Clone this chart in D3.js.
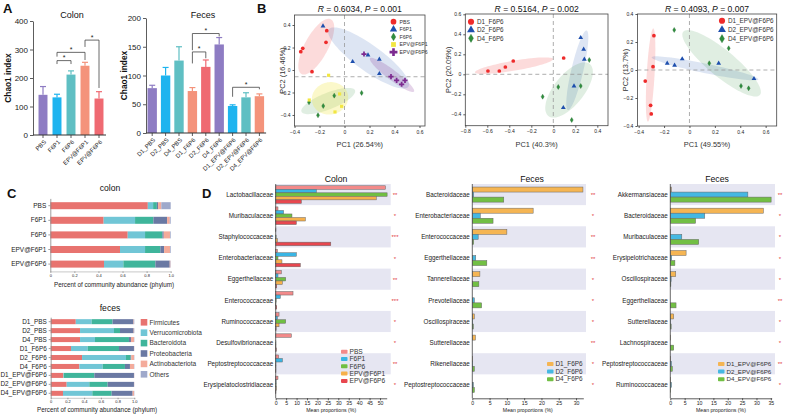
<!DOCTYPE html>
<html><head><meta charset="utf-8">
<script src="https://cdn.jsdelivr.net/npm/d3@7"></script>
<style>body{margin:0;background:#fff}svg{font-family:"Liberation Sans",Arial,sans-serif}</style>
</head><body><svg id="c" width="785" height="417"></svg>
<script>
// ---------------- DATA ----------------
const colonGroups = ["PBS","F6P1","F6P6","EPV@F6P1","EPV@F6P6"];
const colonChao = [141,132,212,243,128];
const colonChaoErr = [170,143,225,255,152];
const colonBrackets = [[1,2,261,249,249],[1,3,290,275,263],[3,4,333,309,165]];
const fecesGroups = ["D1_PBS","D2_PBS","D4_PBS","D1_F6P6","D2_F6P6","D4_F6P6","D1_EPV@F6P6","D2_EPV@F6P6","D4_EPV@F6P6"];
const fecesChao = [78,100,126,73,115,154,47,62,64];
const fecesChaoErr = [83,114,150,79,127,166,49,70,68];
const fecesBrackets = [[3,4,141,121,130],[3,5,173,144,168],[6,8,79.5,63,76]];

const pca1Names = ["PBS","F6P1","F6P6","EPV@F6P1","EPV@F6P6"];
const pca1Pts = [
 [[-0.350,0.163],[-0.334,0.193],[-0.142,0.349],[-0.148,0.246],[-0.26,-0.015]],
 [[-0.172,0.391],[0.065,0.074],[0.188,0.133],[0.279,0.095],[0.279,-0.033]],
 [[-0.284,-0.287],[-0.17,-0.32],[-0.212,-0.403],[-0.082,-0.228],[0.137,-0.204]],
 [[-0.127,-0.047],[-0.282,-0.267],[-0.039,-0.213],[-0.023,-0.323],[-0.076,-0.373]],
 [[0.156,0.142],[0.372,-0.059],[0.417,-0.092],[0.484,-0.092],[0.457,-0.127]]];
const pca1Ell = [
 [-0.226,0.207,0.118,0.243,0.082,-0.049],
 [0.193,0.107,0.318,-0.255,-0.061,-0.094],
 [-0.13,-0.276,0.214,0.095,0.025,-0.068],
 [-0.116,-0.252,0.144,0.027,0.02,-0.142],
 [0.38,-0.044,0.176,-0.148,-0.024,-0.036]];
const pca1Stats = ["0.6034","0.001","26.54%","16.46%"];

const pca2Names = ["D1_F6P6","D2_F6P6","D4_F6P6"];
const pca2Pts = [
 [[-0.594,0.033],[-0.491,0.033],[-0.436,0.073],[-0.364,0.133],[0.094,0.163]],
 [[0.249,0.366],[0.276,0.25],[0.282,0.15],[0.188,-0.117],[0.091,-0.334]],
 [[0.327,0.143],[0.045,-0.127],[0.249,-0.117],[-0.097,-0.224],[0.167,-0.457]]];
const pca2Ell = [
 [-0.357,0.086,0.355,0.067,0.0077,-0.049],
 [0.218,0.04,0.085,0.397,0.053,-0.014],
 [0.143,-0.157,0.188,0.26,0.107,-0.093]];
const pca2Stats = ["0.5164","0.002","40.3%","20.09%"];

const pca3Names = ["D1_EPV@F6P6","D2_EPV@F6P6","D4_EPV@F6P6"];
const pca3Pts = [
 [[-0.28,0.245],[-0.287,0.024],[-0.348,-0.079],[-0.306,-0.252],[-0.301,-0.314]],
 [[-0.175,0.048],[-0.117,0.034],[-0.057,0.079],[0.23,0.048],[0.508,-0.062]],
 [[-0.12,0.286],[0.309,0.155],[0.156,0.048],[0.406,-0.114],[0.466,-0.131]]];
const pca3Ell = [
 [-0.306,-0.036,0.021,0.333,0.031,0.001],
 [0.122,0.012,0.42,-0.079,-0.0075,-0.033],
 [0.253,0.048,0.302,-0.226,-0.067,-0.073]];
const pca3Stats = ["0.4093","0.007","49.55%","13.7%"];

const phyla = ["Firmicutes","Verrucomicrobiota","Bacteroidota","Proteobacteria","Actinobacteriota","Others"];
const phylaColon = [
 [0.81,0.044,0.031,0.01,0.027,0.078],
 [0.443,0.261,0.152,0.114,0.022,0.008],
 [0.643,0.144,0.144,0.011,0.052,0.006],
 [0.579,0.208,0.127,0.031,0.049,0.006],
 [0.446,0.161,0.266,0.119,0.005,0.003]];
const phylaFeces = [
 [0.30,0.19,0.25,0.25,0.005,0.005],
 [0.351,0.406,0.072,0.163,0.004,0.004],
 [0.351,0.179,0.406,0.024,0.036,0.004],
 [0.243,0.199,0.375,0.179,0.002,0.002],
 [0.375,0.525,0.056,0.008,0.032,0.004],
 [0.343,0.279,0.266,0.06,0.048,0.004],
 [0.151,0.005,0.366,0.474,0.002,0.002],
 [0.191,0.271,0.219,0.315,0.002,0.002],
 [0.147,0.351,0.231,0.251,0.016,0.004]];

const dColonFam = ["Lactobacillaceae","Muribaculaceae","Staphylococcaceae","Enterobacteriaceae","Eggerthellaceae","Enterococcaceae","Ruminococcaceae","Desulfovibrionaceae","Peptostreptococcaceae","Erysipelatoclostridiaceae"];
const dColonVals = [
 [52.6,1.1,0.1,0.8,2.7,8.3,1.6,7.5,1.4,1.1],
 [19.5,3.8,0,9.9,1.1,2.2,0.8,0,3.2,0.2],
 [53.4,7.8,0.2,1.1,4.8,0.2,4.8,0.1,0.1,0.2],
 [48.2,14.2,0.8,3.0,3.2,0.1,1.6,0.1,0.1,0.3],
 [12.3,9.9,26.4,11.8,0.5,0.5,0.2,0.3,0.1,0.1]];
const dColonSig = ["**","*","***","*","**","***","*","*","**","*"];

const dFec1Groups = ["D1_F6P6","D2_F6P6","D4_F6P6"];
const dFec1Fam = ["Bacteroidaceae","Enterobacteriaceae","Enterococcaceae","Eggerthellaceae","Tannerellaceae","Prevotellaceae","Oscillospiraceae","Sutterellaceae","Rikenellaceae","Peptostreptococcaceae"];
const dFec1Vals = [
 [32.0,17.6,10.0,0,2.2,0,0.6,0.9,0.1,0],
 [0.4,2.3,1.7,1.0,0,0.6,0.1,0,0.1,0.3],
 [9.1,6.0,0.4,4.2,1.9,2.7,0.3,0,0.6,0.6]];
const dFec1Sig = ["**","*","**","**","*","*","*","**","*","*"];

const dFec2Groups = ["D1_EPV@F6P6","D2_EPV@F6P6","D4_EPV@F6P6"];
const dFec2Fam = ["Akkermansiaceae","Bacteroidaceae","Muribaculaceae","Erysipelotrichaceae","Oscillospiraceae","Eggerthellaceae","Sutterellaceae","Lachnospiraceae","Peptostreptococcaceae","Ruminococcaceae"];
const dFec2Vals = [
 [0.35,32.4,0.1,5.5,1.9,0,1.2,0.1,0.1,0.1],
 [27.0,12.0,4.0,0.5,0.3,0,0.1,0,0.4,0.4],
 [35.1,8.8,9.9,1.6,0.2,2.0,0.3,1.2,0.7,0.1]];
const dFec2Sig = ["**","*","*","*","*","**","*","*","**","*"];

// ---------------- STYLES ----------------
const cPur="#8e7cc3", cBlu="#1eb4ef", cTea="#5fbfc3", cSal="#f4937b", cRed="#ef6a72";
const colonBarCol = [cPur,cBlu,cTea,cSal,cRed];
const fecesBarCol = [cPur,cBlu,cTea,cSal,cRed,cPur,cBlu,cTea,cSal];
const pcaCol = ["#ee2b2b","#1e4fae","#2f8e3d","#f2e641","#7d2a90"];
const pcaCol3 = ["#ee2b2b","#1e4fae","#2f8e3d"];
const pcaSym = [d3.symbolCircle,d3.symbolTriangle,d3.symbolDiamond,d3.symbolSquare,d3.symbolCross];
const pcaSymSize = [11,10,5,10,15];
const pcaEllOp = [0.17,0.15,0.15,0.28,0.2];
const phylaCol = ["#e8736f","#71c6d6","#3fb59b","#6a79a3","#f4ab9b","#9fa9cb"];
const dColonCol = ["#f38a8a","#39b5e4","#70bf42","#f6b04b","#e8474f"];
const dFecCol = ["#f5b553","#45b8e2","#72bf44"];
const AX="#333";

const svg = d3.select("#c");
function styleAxis(g, fs){
  g.selectAll("path,line").attr("stroke",AX).attr("stroke-width",0.8);
  g.selectAll("text").attr("fill","#222").style("font-size",fs+"px");
}
function letter(t,x,y){svg.append("text").attr("x",x).attr("y",y).text(t).style("font-size","13px").style("font-weight","bold").attr("fill","#111");}

// ---------------- PANEL A ----------------
function barPanel(c){
  const g = svg.append("g");
  const x = d3.scaleBand().domain(c.cats).range(c.xr).paddingInner(c.pad).paddingOuter(c.pad/2);
  const y = d3.scaleLinear().domain(c.yd).range(c.yr);
  g.selectAll("rect").data(c.cats).join("rect")
    .attr("x",d=>x(d)).attr("width",x.bandwidth())
    .attr("y",(d,i)=>y(c.vals[i])).attr("height",(d,i)=>y(0)-y(c.vals[i]))
    .attr("fill",(d,i)=>c.colors[i]);
  c.cats.forEach((d,i)=>{
    const cx=x(d)+x.bandwidth()/2;
    g.append("line").attr("x1",cx).attr("x2",cx).attr("y1",y(c.vals[i])).attr("y2",y(c.errs[i])).attr("stroke",c.colors[i]).attr("stroke-width",1.2);
    g.append("line").attr("x1",cx-3).attr("x2",cx+3).attr("y1",y(c.errs[i])).attr("y2",y(c.errs[i])).attr("stroke",c.colors[i]).attr("stroke-width",1.2);
  });
  const ya = g.append("g").attr("transform",`translate(${c.axisX},0)`).call(d3.axisLeft(y).tickValues(c.yticks).tickSize(3).tickPadding(2).tickSizeOuter(0));
  styleAxis(ya,8);
  g.append("line").attr("x1",c.axisX).attr("x2",c.xr[1]).attr("y1",y(0)).attr("y2",y(0)).attr("stroke",AX).attr("stroke-width",1);
  c.cats.forEach(d=>{
    const cx=x(d)+x.bandwidth()/2;
    g.append("line").attr("x1",cx).attr("x2",cx).attr("y1",y(0)).attr("y2",y(0)+3).attr("stroke",AX).attr("stroke-width",0.8);
    g.append("text").attr("transform",`translate(${cx+2},${y(0)+6}) rotate(-45)`).attr("text-anchor","end").attr("dy","0.35em").text(d).style("font-size","6px").attr("fill","#222");
  });
  c.brackets.forEach(b=>{
    const x1=x(c.cats[b[0]])+x.bandwidth()/2, x2=x(c.cats[b[1]])+x.bandwidth()/2;
    g.append("path").attr("d",`M${x1},${y(b[3])}V${y(b[2])}H${x2}V${y(b[4])}`).attr("fill","none").attr("stroke","#444").attr("stroke-width",0.8);
    g.append("text").attr("x",(x1+x2)/2).attr("y",y(b[2])-0.5).attr("text-anchor","middle").text("*").style("font-size","7px").attr("fill","#222");
  });
  g.append("text").attr("x",c.titleX).attr("y",18).attr("text-anchor","middle").text(c.title).style("font-size","9px").attr("fill","#111");
  g.append("text").attr("transform",`translate(${c.labX},${(c.yr[0]+c.yr[1])/2}) rotate(-90)`).attr("text-anchor","middle").text("Chao1 index").style("font-size","8.3px").style("font-weight","bold").attr("fill","#111");
}
letter("A",3,13);
barPanel({cats:colonGroups,vals:colonChao,errs:colonChaoErr,colors:colonBarCol,brackets:colonBrackets,
  xr:[36,106],pad:0.36,yd:[0,400],yr:[135,21],yticks:[0,100,200,300,400],axisX:33,title:"Colon",titleX:72,labX:11});
barPanel({cats:fecesGroups,vals:fecesChao,errs:fecesChaoErr,colors:fecesBarCol,brackets:fecesBrackets,
  xr:[145.5,266.1],pad:0.3,yd:[0,200],yr:[133,18],yticks:[0,50,100,150,200],axisX:146,title:"Feces",titleX:203,labX:127});

// ---------------- PANEL B ----------------
const fmt = d=> d===0?"0":d3.format(".1f")(d);
function pcaPanel(c){
  const g = svg.append("g");
  const x = d3.scaleLinear().domain(c.xd).range([c.x0,c.x1]);
  const y = d3.scaleLinear().domain(c.yd).range([c.y1,c.y0]);
  const id="clip"+c.id;
  svg.append("clipPath").attr("id",id).append("rect").attr("x",c.x0).attr("y",c.y0).attr("width",c.x1-c.x0).attr("height",c.y1-c.y0);
  const ge = g.append("g").attr("clip-path",`url(#${id})`);
  const ts = d3.range(0,2*Math.PI+0.001,Math.PI/40);
  c.ell.forEach((e,i)=>{
    const line = d3.line().x(t=>x(e[0]+e[2]*Math.cos(t)+e[4]*Math.sin(t))).y(t=>y(e[1]+e[3]*Math.cos(t)+e[5]*Math.sin(t))).curve(d3.curveLinearClosed);
    ge.append("path").attr("d",line(ts)).attr("fill",c.cols[i]).attr("fill-opacity",c.ellOp[i]).attr("stroke","none");
  });
  ge.append("line").attr("x1",x(0)).attr("x2",x(0)).attr("y1",c.y0).attr("y2",c.y1).attr("stroke","#999").attr("stroke-dasharray","4,3").attr("stroke-width",0.8);
  ge.append("line").attr("x1",c.x0).attr("x2",c.x1).attr("y1",y(c.href)).attr("y2",y(c.href)).attr("stroke","#999").attr("stroke-dasharray","4,3").attr("stroke-width",0.8);
  const symAt=(gg,i,px,py,k)=>{
    const sz=pcaSymSize[i]*k;
    const p=gg.append("path").attr("d",d3.symbol().type(pcaSym[i]).size(sz)()).attr("fill",c.cols[i]);
    if(i===2) p.attr("transform",`translate(${px},${py}) scale(1.25,1.2)`).attr("stroke","#1f6a2c").attr("stroke-width",0.3);
    else p.attr("transform",`translate(${px},${py})`);
  };
  c.pts.forEach((grp,i)=>grp.forEach(p=>symAt(g,i,x(p[0]),y(p[1]),1)));
  g.append("rect").attr("x",c.x0).attr("y",c.y0).attr("width",c.x1-c.x0).attr("height",c.y1-c.y0).attr("fill","none").attr("stroke","#444").attr("stroke-width",0.8);
  const xa=g.append("g").attr("transform",`translate(0,${c.y1})`).call(d3.axisBottom(x).tickValues(c.xt).tickFormat(fmt).tickSize(2).tickPadding(2).tickSizeOuter(0));
  styleAxis(xa,5); xa.select(".domain").remove();
  const ya=g.append("g").attr("transform",`translate(${c.x0},0)`).call(d3.axisLeft(y).tickValues(c.yt).tickFormat(fmt).tickSize(2).tickPadding(2).tickSizeOuter(0));
  styleAxis(ya,5); ya.select(".domain").remove();
  const cx=(c.x0+c.x1)/2;
  const t=g.append("text").attr("x",cx).attr("y",12).attr("text-anchor","middle").style("font-size","8.6px").attr("fill","#111");
  t.append("tspan").text("R").style("font-style","italic");
  t.append("tspan").text(" = "+c.stats[0]+", ");
  t.append("tspan").text("P").style("font-style","italic");
  t.append("tspan").text(" = "+c.stats[1]);
  g.append("text").attr("x",cx).attr("y",147).attr("text-anchor","middle").text(`PC1 (${c.stats[2]})`).style("font-size","7.4px").attr("fill","#333");
  g.append("text").attr("transform",`translate(${c.labX},${(c.y0+c.y1)/2}) rotate(-90)`).attr("text-anchor","middle").text(`PC2 (${c.stats[3]})`).style("font-size","7.4px").attr("fill","#333");
  c.names.forEach((n,i)=>{
    const ly=c.legY+i*c.legDy;
    symAt(g,i,c.legX,ly,c.legK);
    g.append("text").attr("x",c.legX+6).attr("y",ly).attr("dy","0.35em").text(n).style("font-size",c.legFs+"px").attr("fill","#333");
  });
}
letter("B",257,13);
pcaPanel({id:1,names:pca1Names,pts:pca1Pts,ell:pca1Ell,stats:pca1Stats,cols:pcaCol,ellOp:pcaEllOp,
  xd:[-0.4,0.644],yd:[-0.498,0.489],x0:294.5,x1:425,y0:15,y1:126,xt:[-0.4,-0.2,0,0.2,0.4,0.6],yt:[-0.4,-0.2,0,0.2,0.4],
  href:-0.06,labX:284.5,legX:393.5,legY:21.7,legDy:7.6,legFs:5.2,legK:2.3});
pcaPanel({id:2,names:pca2Names,pts:pca2Pts,ell:pca2Ell,stats:pca2Stats,cols:pcaCol3,ellOp:pcaEllOp,
  xd:[-0.8,0.497],yd:[-0.514,0.603],x0:465.3,x1:608,y0:14,y1:125.7,xt:[-0.8,-0.6,-0.4,-0.2,0,0.2,0.4],yt:[-0.4,-0.2,0,0.2,0.4,0.6],
  href:0,labX:451,legX:471,legY:21.7,legDy:8.3,legFs:6.3,legK:2.7});
pcaPanel({id:3,names:pca3Names,pts:pca3Pts,ell:pca3Ell,stats:pca3Stats,cols:pcaCol3,ellOp:pcaEllOp,
  xd:[-0.41,0.687],yd:[-0.4,0.4],x0:637.4,x1:776.7,y0:14,y1:126,xt:[-0.4,-0.2,0,0.2,0.4,0.6],yt:[-0.4,-0.2,0,0.2,0.4],
  href:0,labX:628,legX:722,legY:20.7,legDy:9,legFs:6.3,legK:2.7});

// ---------------- PANEL C ----------------
function stackPanel(c){
  const g=svg.append("g");
  const x=d3.scaleLinear().domain([0,1]).range(c.xr);
  const y=d3.scaleBand().domain(c.cats).range(c.yr).paddingInner(c.pad).paddingOuter(c.pad/2);
  const rows=c.vals.map((v,i)=>{const o={cat:c.cats[i]};phyla.forEach((p,j)=>o[p]=v[j]);return o;});
  const series=d3.stack().keys(phyla)(rows);
  series.forEach((s,j)=>{
    g.selectAll(null).data(s).join("rect").attr("x",d=>x(d[0])).attr("width",d=>Math.max(0,x(d[1])-x(d[0])))
      .attr("y",d=>y(d.data.cat)).attr("height",y.bandwidth()).attr("fill",phylaCol[j]);
  });
  const ya=g.append("g").attr("transform",`translate(${c.xr[0]},0)`).call(d3.axisLeft(y).tickSize(2).tickPadding(2).tickSizeOuter(0));
  styleAxis(ya,c.fs); ya.selectAll("line").attr("stroke","#888"); ya.select(".domain").attr("stroke","#888");
  const xa=g.append("g").attr("transform",`translate(0,${c.yr[1]})`).call(d3.axisBottom(x).tickValues([0,0.2,0.4,0.6,0.8,1]).tickFormat(d=>d===0?"0":d3.format(".1f")(d)).tickSize(1.5).tickPadding(1).tickSizeOuter(0));
  styleAxis(xa,4); xa.select(".domain").attr("stroke","#bbb"); xa.selectAll("line").attr("stroke","#888");
  g.append("text").attr("x",c.titleX).attr("y",c.titleY).attr("text-anchor","middle").text(c.title).style("font-size","8.6px").attr("fill","#111");
  g.append("text").attr("x",c.labX).attr("y",c.labY).attr("text-anchor","middle").text("Percent of community abundance (phylum)").style("font-size","6.3px").attr("fill","#222");
}
letter("C",7,198);
stackPanel({cats:colonGroups,vals:phylaColon,xr:[50.3,170.7],yr:[198.4,271.4],pad:0.52,fs:6.5,title:"colon",titleX:110,titleY:191,labX:114,labY:287});
stackPanel({cats:fecesGroups,vals:phylaFeces,xr:[50.7,134.3],yr:[317.2,397.8],pad:0.44,fs:6.4,title:"feces",titleX:110,titleY:311,labX:97,labY:412});
phyla.forEach((p,j)=>{
  const ly=322.3+j*10.4;
  svg.append("rect").attr("x",140.7).attr("y",ly-3.3).attr("width",6.6).attr("height",6.6).attr("fill",phylaCol[j]);
  svg.append("text").attr("x",149.5).attr("y",ly).attr("dy","0.35em").text(p).style("font-size","6.5px").attr("fill","#333");
});

// ---------------- PANEL D ----------------
function dPanel(c){
  const g=svg.append("g");
  const x=d3.scaleLinear().domain([0,c.xmax]).range([c.ax,c.axEnd]);
  const y=d3.scaleBand().domain(c.fam).range([184,395.5]);
  const inner=d3.scaleBand().domain(c.groups).range([0,y.bandwidth()]).paddingOuter(c.po);
  c.fam.forEach((f,i)=>{ if(i%2===0) g.append("rect").attr("x",c.ax).attr("y",y(f)).attr("width",c.bandEnd-c.ax).attr("height",y.bandwidth()).attr("fill","#e6e6f2"); });
  c.groups.forEach((gr,s)=>{
    g.selectAll(null).data(c.fam).join("rect")
      .attr("x",c.ax).attr("y",f=>y(f)+inner(gr)).attr("height",inner.bandwidth())
      .attr("width",(f,i)=>x(c.vals[s][i])-c.ax).attr("fill",c.cols[s]).attr("stroke","#666").attr("stroke-width",0.5);
  });
  c.fam.forEach((f,i)=>{
    g.append("text").attr("x",c.ax-2.5).attr("y",y(f)+y.bandwidth()/2).attr("dy","0.35em").attr("text-anchor","end").text(f).style("font-size","6.3px").attr("fill","#222");
    g.append("text").attr("x",c.sigX).attr("y",y(f)+y.bandwidth()/2+2.5).attr("text-anchor","middle").text(c.sig[i]).style("font-size","6px").attr("fill","#e23a3f");
  });
  g.append("line").attr("x1",c.ax).attr("x2",c.ax).attr("y1",184).attr("y2",398.3).attr("stroke","#444").attr("stroke-width",0.8);
  const xa=g.append("g").attr("transform","translate(0,398.3)").call(d3.axisBottom(x).tickValues(d3.range(0,c.xmax,5)).tickSize(2).tickPadding(1.5).tickSizeOuter(0));
  styleAxis(xa,5.2);
  g.append("text").attr("x",(c.ax+c.axEnd)/2+c.labDx).attr("y",411.7).attr("text-anchor","middle").text("Mean proportions (%)").style("font-size","5.2px").attr("fill","#222");
  g.append("text").attr("x",c.titleX).attr("y",182).attr("text-anchor","middle").text(c.title).style("font-size","8.7px").attr("fill","#111");
  c.groups.forEach((gr,s)=>{
    const ly=c.legY+s*c.legDy;
    g.append("rect").attr("x",c.legX).attr("y",ly-2).attr("width",6.5).attr("height",4).attr("rx",0.8).attr("fill",c.cols[s]);
    g.append("text").attr("x",c.legX+8.5).attr("y",ly).attr("dy","0.35em").text(gr).style("font-size",c.legFs+"px").attr("fill","#333");
  });
}
letter("D",202,198);
dPanel({fam:dColonFam,groups:colonGroups,vals:dColonVals,sig:dColonSig,cols:dColonCol,xmax:53.2,ax:275.7,axEnd:386.7,bandEnd:390.7,po:0.5,sigX:395,
  title:"Colon",titleX:336,labDx:0,legX:341,legY:351.7,legDy:7.3,legFs:6.6});
dPanel({fam:dFec1Fam,groups:dFec1Groups,vals:dFec1Vals,sig:dFec1Sig,cols:dFecCol,xmax:32.1,ax:472.3,axEnd:583.3,bandEnd:586,po:0.6,sigX:593,
  title:"Feces",titleX:532,labDx:0,legX:547,legY:364,legDy:7.6,legFs:6.4});
dPanel({fam:dFec2Fam,groups:dFec2Groups,vals:dFec2Vals,sig:dFec2Sig,cols:dFecCol,xmax:35.3,ax:670.3,axEnd:771.7,bandEnd:775,po:0.6,sigX:780,
  title:"Feces",titleX:717,labDx:0,legX:718,legY:364,legDy:7.6,legFs:6.2});
</script></body></html>
